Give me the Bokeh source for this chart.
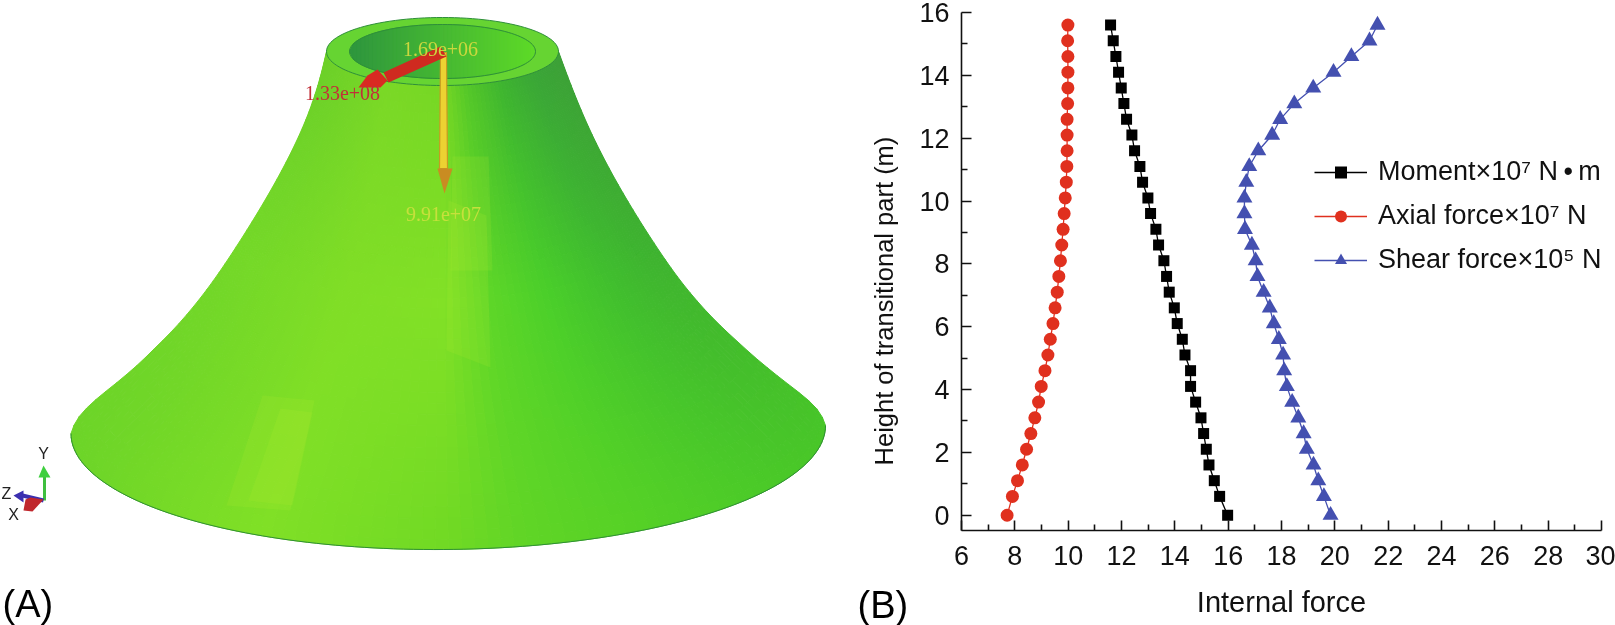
import numpy as np
from bokeh.plotting import figure
from bokeh.embed import file_html
from bokeh.resources import INLINE
from bokeh.models import Range1d, FixedTicker, Label, Legend, LegendItem

# ---- chart data (panel B) ----
heights = [0, 0.6, 1.1, 1.6, 2.1, 2.6, 3.1, 3.6, 4.1, 4.6, 5.1, 5.6, 6.1, 6.6, 7.1, 7.6,
           8.1, 8.6, 9.1, 9.6, 10.1, 10.6, 11.1, 11.6, 12.1, 12.6, 13.1, 13.6, 14.1, 14.6, 15.1, 15.6]
moment = [15.98, 15.68, 15.48, 15.28, 15.18, 15.08, 14.98, 14.78, 14.59, 14.59, 14.38, 14.28, 14.09, 13.98, 13.79, 13.69,
          13.59, 13.39, 13.29, 13.09, 12.99, 12.79, 12.69, 12.49, 12.39, 12.19, 12.09, 11.99, 11.89, 11.79, 11.69, 11.59]
axial = [7.71, 7.91, 8.10, 8.28, 8.44, 8.60, 8.75, 8.89, 8.99, 9.13, 9.24, 9.33, 9.43, 9.51, 9.59, 9.65,
         9.71, 9.76, 9.81, 9.85, 9.89, 9.93, 9.95, 9.96, 9.96, 9.96, 9.98, 9.99, 9.99, 9.99, 9.98, 9.99]
shear = [19.84, 19.59, 19.38, 19.20, 18.95, 18.83, 18.63, 18.40, 18.20, 18.10, 18.06, 17.90, 17.71, 17.56, 17.33, 17.10,
         17.03, 16.89, 16.63, 16.61, 16.61, 16.68, 16.79, 17.13, 17.65, 17.95, 18.48, 19.19, 19.95, 20.62, 21.30, 21.60]
x_ticks = [6, 8, 10, 12, 14, 16, 18, 20, 22, 24, 26, 28, 30]
x_minor = [7, 9, 11, 13, 15, 17, 19, 21, 23, 25, 27, 29]
y_ticks = [0, 2, 4, 6, 8, 10, 12, 14, 16]
y_minor = [1, 3, 5, 7, 9, 11, 13, 15]
labels = ["Moment\u00d710\u2077 N\u2009\u2022\u2009m", "Axial force\u00d710\u2077 N", "Shear force\u00d710\u2075 N"]

# ---- illustration outline (panel A), image pixels ----
sil_y = [51, 91, 153, 225, 302, 356, 389, 400, 410, 420, 429]
sil_l = [326, 317.5, 291, 249, 197, 145, 103, 90, 80, 73.5, 70.5]
sil_r = [558, 572, 599, 640, 692, 748, 790, 804, 815, 822, 825]
stops_n = [-1, -.5, 0, .2, .5, .8, 1]
col_top = [(108, 208, 40), (122, 216, 38), (118, 215, 36), (85, 200, 40), (62, 180, 48), (58, 165, 55), (60, 160, 55)]
col_mid = [(116, 216, 40), (128, 222, 38), (130, 225, 38), (95, 215, 40), (74, 207, 42), (64, 190, 46), (62, 178, 48)]
col_bot = [(108, 212, 40), (128, 224, 38), (112, 217, 36), (96, 213, 38), (86, 209, 38), (76, 203, 40), (72, 198, 40)]

W_A, W_B, H = 960, 775, 625
a = figure(width=W_A, height=H, x_range=Range1d(0, W_A), y_range=Range1d(H, 0), output_backend="svg",
           toolbar_location=None, min_border=0, outline_line_color=None, x_axis_type=None, y_axis_type=None,
           styles={"position": "fixed", "left": "0px", "top": "0px"})
a.grid.visible = False

# smoothed outline profile: heavy in the long concave run, light at the base
dense_y = np.linspace(sil_y[0], sil_y[-1], 379)
def window(d, w):
    pad = np.concatenate([2 * d[0] - d[w:0:-1], d, 2 * d[-1] - d[-2:-w - 2:-1]])
    return np.convolve(pad, np.ones(w) / w, mode="same")[w:-w]
def smooth(vals):
    d = np.interp(dense_y, sil_y, vals)
    heavy, light = window(window(d, 71), 41), window(d, 11)
    blend = np.clip((dense_y - 345) / 45, 0, 1)
    return heavy * (1 - blend) + light * blend
prof_l, prof_r = smooth(sil_l), smooth(sil_r)

def colour(n, s):
    tab = np.array([col_top, col_mid, col_bot], float)
    row_c = np.array([[np.interp(n, stops_n, tab[i, :, c]) for c in range(3)] for i in range(3)])
    c = [np.interp(s, [0, .5, 1], row_c[:, k]) for k in range(3)]
    return "#%02x%02x%02x" % tuple(int(round(v)) for v in c)

def surf(t, y):
    xl, xr = np.interp(y, dense_y, prof_l), np.interp(y, dense_y, prof_r)
    R, cx = (xr - xl) / 2, (xr + xl) / 2
    f = (y - sil_y[0]) / (sil_y[-1] - sil_y[0])
    k = 0.293 + 0.025 * f
    tilt = -4 * f
    return cx + R * np.cos(t), y + k * R * np.sin(t) + tilt * np.cos(t)

ts = np.linspace(0, np.pi, 91)
ys = np.linspace(sil_y[0], sil_y[-1], 46)
xs_q, ys_q, cols = [], [], []
for i in range(len(ts) - 1):
    for j in range(len(ys) - 1):
        pts = [surf(ts[i], ys[j]), surf(ts[i + 1], ys[j]), surf(ts[i + 1], ys[j + 1]), surf(ts[i], ys[j + 1])]
        xs_q.append([p[0] for p in pts]); ys_q.append([p[1] for p in pts])
        cols.append(colour(float(np.cos((ts[i] + ts[i + 1]) / 2)), float((j + .5) / (len(ys) - 1))))
a.patches(xs_q, ys_q, fill_color=cols, line_color=cols, line_width=1)

# lighter facets of the mesh
a.patches([[452, 488, 492, 450], [448, 486, 490, 446], [262, 314, 290, 226], [280, 312, 292, 248]],
          [[156, 156, 270, 270], [200, 215, 367, 350], [395, 400, 510, 505], [408, 412, 505, 500]],
          fill_color="#b4ee30", fill_alpha=0.16, line_color=None)

# base edge
tb = np.linspace(0, np.pi, 120)
bx, by = surf(tb, 429.0)
a.line(bx, by, line_color="#2f8f35", line_width=1)

# rim
rim_t = np.linspace(0, 2 * np.pi, 121)
a.patch(442 + 116 * np.cos(rim_t), 51 + 34 * np.sin(rim_t), fill_color="#66d432", line_color="#2f8f3a", line_width=1)
ix = np.linspace(349, 535, 48)
for i in range(len(ix) - 1):
    x0, x1 = ix[i], ix[i + 1]
    h0 = 27 * np.sqrt(max(0, 1 - ((x0 - 442) / 93) ** 2)); h1 = 27 * np.sqrt(max(0, 1 - ((x1 - 442) / 93) ** 2))
    f = i / 46
    c = "#%02x%02x%02x" % (int(46 + 48 * f), int(150 + 68 * f), int(62 - 22 * f))
    a.patch([x0, x1, x1, x0], [51 - h0, 51 - h1, 51 + h1, 51 + h0], fill_color=c, line_color=c, line_width=1)
a.line(442 + 93 * np.cos(rim_t), 51 + 27 * np.sin(rim_t), line_color="#2f8f3a", line_width=1)

# force arrows
a.patch([440, 446, 447, 439], [52, 52, 168, 168], fill_color="#ecd232", line_color="#c89a20", line_width=1.2)
a.patch([437, 452, 444], [168, 168, 193], fill_color="#c98c22", line_color=None)
a.patch([440, 446, 388, 383], [46, 56, 82, 72], fill_color="#cf2a20", line_color=None)
a.patch([377, 387, 380, 358, 367], [69, 80, 87, 87, 75], fill_color="#d92a22", line_color=None)

# triad
a.line([44, 44], [500, 475], line_color="#3fbf3f", line_width=3)
a.patch([38, 50, 43], [477, 477, 465], fill_color="#3fcf3f", line_color=None)
a.line([43, 22], [500, 495], line_color="#3b2fb0", line_width=4)
a.patch([23, 13, 23], [490, 495, 502], fill_color="#3b2fb0", line_color=None)
a.patch([43, 30, 25, 23, 32], [499, 497, 499, 510, 511], fill_color="#c0272d", line_color=None)

def lab(fig, x, y, text, size, color="black", font="Liberation Sans", align="center", base="middle", angle=0):
    fig.add_layout(Label(x=x, y=y, x_units="screen", y_units="screen", text=text, text_font=font, angle=angle,
                         text_font_size=size, text_color=color, text_align=align, text_baseline=base))

lab(a, 440, H - 48, "1.69e+06", "20px", "#cbd83e", "Liberation Serif")
lab(a, 342, H - 92, "1.33e+08", "20px", "#c13038", "Liberation Serif")
lab(a, 443, H - 213, "9.91e+07", "20px", "#c6e03c", "Liberation Serif")
lab(a, 43, H - 453, "Y", "16px", "#222222")
lab(a, 6, H - 493, "Z", "16px", "#222222")
lab(a, 13, H - 514, "X", "16px", "#222222")
lab(a, 2, H - 603, "(A)", "38px", "black", align="left")
lab(a, 857, H - 604, "(B)", "38px", "black", align="left")
lab(a, 883, H - 297, "Height of transitional part  (m)", "25.5px", "#111111", angle=np.pi / 2)

# ---- panel B ----
b = figure(width=W_B, height=H, x_range=Range1d(6, 30), y_range=Range1d(-0.486, 16), output_backend="svg",
           toolbar_location=None, min_border_left=121, min_border_right=14, min_border_top=12, min_border_bottom=95,
           outline_line_color=None, border_fill_alpha=0, background_fill_alpha=0,
           styles={"position": "fixed", "left": "840px", "top": "0px"})
b.grid.visible = False
for ax, maj, mnr in ((b.xaxis[0], x_ticks, x_minor), (b.yaxis[0], y_ticks, y_minor)):
    ax.ticker = FixedTicker(ticks=maj, minor_ticks=mnr)
    ax.major_tick_in, ax.major_tick_out = 10, 0
    ax.minor_tick_in, ax.minor_tick_out = 6, 0
    ax.axis_line_width = ax.major_tick_line_width = ax.minor_tick_line_width = 1.6
    ax.axis_line_color = ax.major_tick_line_color = ax.minor_tick_line_color = "#111111"
    ax.major_label_text_font = "Liberation Sans"
    ax.major_label_text_font_size = "27px"
    ax.major_label_text_color = "#111111"
    ax.major_label_standoff = 12
b.xaxis[0].major_label_standoff = 15
b.xaxis[0].axis_label = "Internal force"
b.xaxis[0].axis_label_text_font = "Liberation Sans"
b.xaxis[0].axis_label_text_font_style = "normal"
b.xaxis[0].axis_label_text_color = "#111111"
b.xaxis[0].axis_label_text_font_size = "29px"
b.xaxis[0].axis_label_standoff = 18

series = [(moment, "#000000", "square", 11), (axial, "#e0301e", "circle", 13), (shear, "#4450b0", "triangle", 16)]
items = []
for vals, col, mk, sz in zip(*[[s[i] for s in series] for i in range(4)]):
    ln = b.line(vals, heights, line_color=col, line_width=1.3)
    pt = b.scatter(vals, heights, marker=mk, size=sz, fill_color=col, line_color=None)
    items.append((ln, pt))
legend = Legend(items=[LegendItem(label=l, renderers=list(r)) for l, r in zip(labels, items)],
                location=(353, 255), border_line_color=None, background_fill_alpha=0, padding=0, margin=0,
                glyph_width=53, glyph_height=30, label_height=30, spacing=13, label_standoff=11,
                label_text_font="Liberation Sans", label_text_font_size="27px", label_text_color="#111111")
b.add_layout(legend)

open("out.html", "w").write(file_html([a, b], INLINE))
